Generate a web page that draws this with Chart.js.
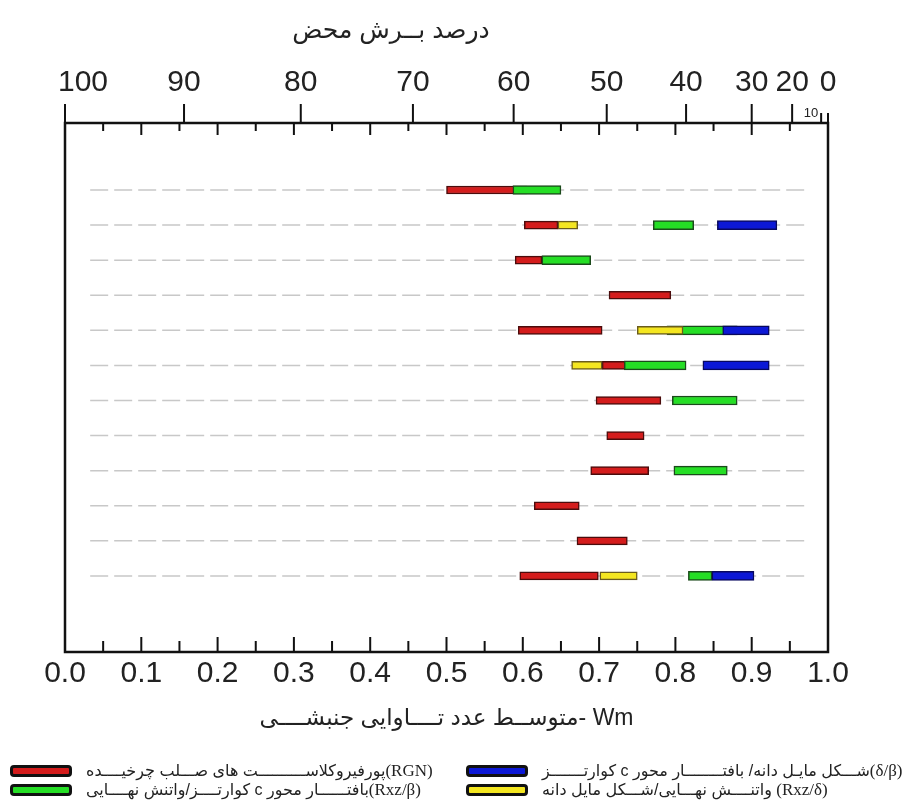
<!DOCTYPE html>
<html>
<head>
<meta charset="utf-8">
<script src="https://cdn.jsdelivr.net/npm/chart.js@4.4.1/dist/chart.umd.min.js"></script>
<style>
  html, body { margin: 0; padding: 0; background: #fff; }
  #wrap { position: relative; width: 916px; height: 807px; }
  #topTitle {
    position: absolute; left: 251px; top: 12px; width: 280px; text-align: center;
    font: 25px/34px "Liberation Sans", "DejaVu Sans", sans-serif; color: #222;
  }
  .lgcol { position: absolute; top: 762px; display: flex; flex-direction: column; gap: 1px; }
  .lgitem { display: flex; align-items: center; height: 18px; white-space: nowrap;
    font: 16px "Liberation Sans", "DejaVu Sans", sans-serif; color: #222; }
  .lgitem .txt { direction: rtl; unicode-bidi: isolate; margin-left: 14px; }
  .lgitem .code { font: 17px "Liberation Serif", "DejaVu Serif", serif; }
  .lgitem .sw { width: 56px; height: 6px; border: 3px solid #111; border-radius: 4px; }
</style>
</head>
<body>
<div id="wrap">
  <canvas id="c" width="916" height="807"></canvas>
  <div id="topTitle">درصد بــرش محض</div>
  <div class="lgcol" id="lgLeft" style="left:10px"></div>
  <div class="lgcol" id="lgRight" style="left:466px"></div>
</div>
<script>
// Samples, top to bottom
const rowIds = [1, 2, 3, 4, 5, 6, 7, 8, 9, 10, 11, 12];

// Wm ranges [min, max] for each sample and each method (null = not measured)
const redRGN = [
  [0.500, 0.605], [0.602, 0.646], [0.590, 0.625], [0.713, 0.794],
  [0.594, 0.704], [0.704, 0.746], [0.696, 0.781], [0.710, 0.759],
  [0.689, 0.765], [0.615, 0.674], [0.671, 0.737], [0.596, 0.699]
];
const greenRxzBeta = [
  [0.587, 0.650], [0.771, 0.824], [0.625, 0.689], null,
  [0.789, 0.881], [0.733, 0.814], [0.796, 0.881], null,
  [0.798, 0.868], null, null, [0.817, 0.848]
];
const blueDeltaBeta = [
  null, [0.855, 0.933], null, null,
  [0.862, 0.923], [0.836, 0.923], null, null,
  null, null, null, [0.848, 0.903]
];
const yellowRxzDelta = [
  null, [0.646, 0.672], null, null,
  [0.750, 0.810], [0.664, 0.704], null, null,
  null, null, null, [0.701, 0.750]
];

// Legend texts: [symbol, description]
const nameRGN = ['(RGN)', 'پورفیروکلاســــــــــت های صـــلب چرخیــــده'];
const nameRxzBeta = ['(Rxz/β)', 'بافتــــــار محور c کوارتــــز/واتنش نهــــایی'];
const nameDeltaBeta = ['(δ/β)', 'شـــکل مایـل دانه/ بافتــــــــار محور c کوارتـــــــز'];
const nameRxzDelta = ['(Rxz/δ) ', 'واتنــــش نهـــایی/شـــکل مایل دانه'];

// Bottom axis: mean kinematic vorticity number
const wmMin = 0, wmMax = 1, wmStep = 0.1, wmMinorStep = 0.05;
const bottomTitle = 'متوســط عدد تــــاوایی جنبشــــی- Wm';

// Top axis: percentage of pure shear and the Wm value where each one falls
const shearLabels = ['100', '90', '80', '70', '60', '50', '40', '30', '20', '10', '0'];
const shearWm = [0.000, 0.156, 0.309, 0.456, 0.588, 0.710, 0.814, 0.900, 0.953, 0.991, 1.000];

// Extent of the dashed sample guide lines (in Wm)
const guideFrom = 0.033, guideTo = 0.970;

const tickFamily = '"Liberation Sans", Arial, sans-serif';
const tickSize = 30;
const topPad = 22;

function toPoints(ranges) {
  return ranges.map((r, i) => r ? { x: r, y: rowIds[i] } : null).filter(Boolean);
}

const series = [
  { names: nameRGN, data: redRGN, fill: '#d41c1c', edge: '#4a0c0c', thick: 8, order: 3 },
  { names: nameRxzBeta, data: greenRxzBeta, fill: '#25de25', edge: '#1b4a1b', thick: 9, order: 2 },
  { names: nameDeltaBeta, data: blueDeltaBeta, fill: '#0c18d6', edge: '#08085e', thick: 9, order: 1 },
  { names: nameRxzDelta, data: yellowRxzDelta, fill: '#f4e620', edge: '#6a5c1c', thick: 8, order: 0 }
];

const axisFrame = {
  id: 'axisFrame',
  beforeDatasetsDraw(chart) {
    const { ctx, scales: { x, y } } = chart;
    ctx.save();
    ctx.strokeStyle = '#c8c8c8';
    ctx.lineWidth = 1.5;
    ctx.setLineDash([18, 6]);
    rowIds.forEach(r => {
      const py = y.getPixelForValue(r);
      ctx.beginPath();
      ctx.moveTo(x.getPixelForValue(guideFrom), py);
      ctx.lineTo(x.getPixelForValue(guideTo), py);
      ctx.stroke();
    });
    ctx.restore();
  },
  afterDatasetsDraw(chart) {
    const { ctx, chartArea: a, scales: { x } } = chart;
    ctx.save();
    ctx.strokeStyle = '#111';
    ctx.lineWidth = 2.5;
    ctx.strokeRect(a.left, a.top, a.right - a.left, a.bottom - a.top);
    ctx.lineWidth = 2;
    ctx.beginPath();
    // inward ticks of the Wm scale, bottom and top edges
    const n = Math.round((wmMax - wmMin) / wmMinorStep);
    for (let i = 1; i < n; i++) {
      const px = x.getPixelForValue(wmMin + i * wmMinorStep);
      const major = i % 2 === 0;
      ctx.moveTo(px, a.bottom); ctx.lineTo(px, a.bottom - (major ? 15 : 11));
      ctx.moveTo(px, a.top); ctx.lineTo(px, a.top + (major ? 12 : 8));
    }
    // outward ticks of the pure-shear scale
    shearWm.forEach((v, i) => {
      const px = x.getPixelForValue(v);
      const short = shearLabels[i] === '10' || shearLabels[i] === '0';
      ctx.moveTo(px, a.top); ctx.lineTo(px, a.top - (short ? 10 : 19));
    });
    ctx.stroke();
    // end labels that do not sit centred on their ticks
    ctx.fillStyle = '#222';
    ctx.textBaseline = 'middle';
    shearWm.forEach((v, i) => {
      const px = x.getPixelForValue(v);
      if (shearLabels[i] === '10') {
        ctx.font = '13px "Liberation Sans", sans-serif';
        ctx.textAlign = 'right';
        ctx.fillText(shearLabels[i], px - 3, a.top - 10);
      } else if (shearLabels[i] === '100') {
        ctx.font = tickSize + 'px ' + tickFamily;
        ctx.textAlign = 'left';
        ctx.fillText(shearLabels[i], px - 7, a.top - topPad - tickSize * 0.6);
      }
    });
    ctx.restore();
  }
};

new Chart(document.getElementById('c'), {
  type: 'bar',
  data: {
    datasets: series.map(s => ({
      label: s.names.join(''),
      data: toPoints(s.data),
      backgroundColor: s.fill,
      borderColor: s.edge,
      borderWidth: 1.5,
      borderSkipped: false,
      barThickness: s.thick,
      grouped: false,
      order: s.order
    }))
  },
  options: {
    indexAxis: 'y',
    responsive: false,
    animation: false,
    layout: { padding: { left: 65, right: 88, top: 63, bottom: 55 } },
    plugins: { legend: { display: false }, tooltip: { enabled: false } },
    scales: {
      y: {
        type: 'linear', reverse: true, offset: false, min: -0.91, max: 14.17, display: false
      },
      x: {
        type: 'linear', position: 'bottom', min: wmMin, max: wmMax,
        grid: { display: false, drawTicks: false },
        border: { display: false },
        ticks: {
          stepSize: wmStep, padding: 4, color: '#222', maxRotation: 0,
          font: { family: tickFamily, size: tickSize },
          callback: v => Number(v).toFixed(1)
        },
        title: {
          display: true, text: bottomTitle, color: '#222',
          font: { family: '"Liberation Sans", "DejaVu Sans", sans-serif', size: 23 },
          padding: { top: 0, bottom: 20 }
        },
        afterFit: s => { s.height = 100; }
      },
      x2: {
        type: 'linear', position: 'top', min: wmMin, max: wmMax,
        grid: { display: false, drawTicks: false },
        border: { display: false },
        afterBuildTicks: s => { s.ticks = shearWm.map(v => ({ value: v })); },
        ticks: {
          autoSkip: false, maxRotation: 0, padding: topPad, color: '#222',
          font: { family: tickFamily, size: tickSize },
          callback: (v, i) => (shearLabels[i] === '10' || shearLabels[i] === '100') ? '' : shearLabels[i]
        },
        afterFit: s => { s.height = 60; }
      }
    }
  },
  plugins: [axisFrame]
});

// Two-column legend built from the series
function legendItem(s) {
  const item = document.createElement('div');
  item.className = 'lgitem';
  const sw = document.createElement('span');
  sw.className = 'sw';
  sw.style.background = s.fill;
  const txt = document.createElement('span');
  txt.className = 'txt';
  const code = document.createElement('span');
  code.className = 'code';
  code.textContent = s.names[0];
  const desc = document.createElement('span');
  desc.textContent = s.names[1];
  txt.append(code, desc);
  item.append(sw, txt);
  return item;
}
document.getElementById('lgLeft').append(legendItem(series[0]), legendItem(series[1]));
document.getElementById('lgRight').append(legendItem(series[2]), legendItem(series[3]));
</script>
</body>
</html>
